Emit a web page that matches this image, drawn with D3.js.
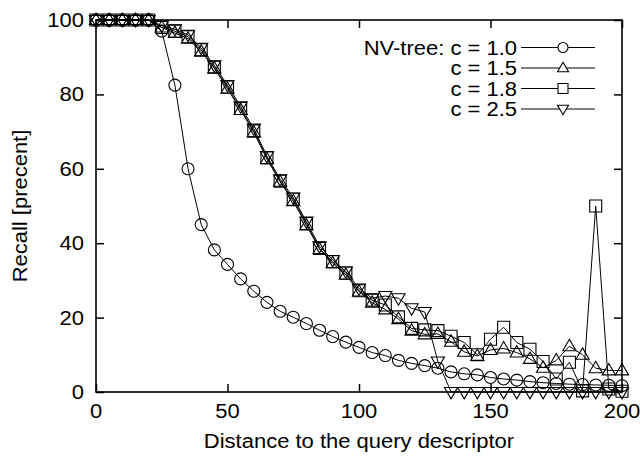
<!DOCTYPE html>
<html><head><meta charset="utf-8">
<script src="https://cdn.jsdelivr.net/npm/d3@7"></script>
<style>body{margin:0;background:#fff} text{font-family:"Liberation Sans",Arial,Helvetica,sans-serif;fill:#000}</style>
</head><body><svg id="c" width="640" height="460"></svg>
<script>
const distance = [0,5,10,15,20,25,30,35,40,45,50,55,60,65,70,75,80,85,90,95,100,105,110,115,120,125,130,135,140,145,150,155,160,165,170,175,180,185,190,195,200];
const recallC10 = [100,100,100,100,100,97,82.5,60,45,38.2,34.3,30.4,27.1,24.1,21.7,20.1,18.4,16.6,14.9,13.4,12.0,10.6,9.8,8.5,7.7,7.1,6.4,5.4,4.9,4.6,3.9,3.5,3.2,2.8,2.5,2.3,2.1,2.0,1.9,1.8,1.7];
const recallC15 = [100,100,100,100,100,98,96.5,95,91.5,87,81.5,75.8,69.8,62.6,56.5,51.3,44.8,38.4,34.6,31.5,27,24,22.2,19.6,16.5,15.5,15.6,13.5,10.8,9.7,11.3,11.7,10.6,8.9,6.5,8.5,12.3,10,6.4,5.8,5.8];
const recallC18 = [100,100,100,100,100,98,97,95.5,92,87.3,82,76.2,70.2,63,56.7,51.8,45.3,38.6,35,32,27.2,24.7,23.4,20.2,17.1,16.7,16.5,15,13.3,10,14.2,17.4,13.3,11.5,8.2,3.5,8,0.3,50,0.8,0.2];
const recallC25 = [100,100,100,100,100,98.5,97.5,96,92.5,87.8,82.5,76.8,70.8,63.4,57.2,52.3,45.8,39.2,35.5,32.4,27.8,25.2,25.8,25.2,22.5,21.5,8.2,0,0,0,0,0,0,0,0,0,0,0,0,0,0];
const seriesLabels = ["NV-tree: c = 1.0","c = 1.5","c = 1.8","c = 2.5"];
const xTicks = [0,50,100,150,200];
const yTicks = [0,20,40,60,80,100];
const xTitle = "Distance to the query descriptor";
const yTitle = "Recall [precent]";

const svg = d3.select("#c");
const L=96, R=622, T=20, B=392;
const x = d3.scaleLinear().domain([0,200]).range([L,R]);
const y = d3.scaleLinear().domain([0,100]).range([B,T]);
const FS = 19.5, SX = 1.128;

function label(txt, px, py, anchor, rot){
  const g = svg.append("g").attr("transform",`translate(${px},${py})${rot?" rotate(-90)":""} scale(${SX},1)`);
  return g.append("text").attr("text-anchor",anchor).style("font-size",FS+"px").text(txt);
}

const shapes = [
  s => `M${s},0A${s},${s} 0 1,1 ${-s},0A${s},${s} 0 1,1 ${s},0Z`,
  s => `M0,${-s*1.15}L${s*1.1},${s*0.75}L${-s*1.1},${s*0.75}Z`,
  s => `M${-s},${-s}H${s}V${s}H${-s}Z`,
  s => `M0,${s*1.15}L${s*1.1},${-s*0.75}L${-s*1.1},${-s*0.75}Z`
];
const allSeries = [recallC10, recallC15, recallC18, recallC25];

// inward ticks on all four sides (labels drawn separately)
const gx = svg.append("g").attr("transform",`translate(0,${B})`)
  .call(d3.axisBottom(x).tickValues(xTicks).tickSizeInner(-8).tickSizeOuter(0).tickFormat(""));
const gx2 = svg.append("g").attr("transform",`translate(0,${T})`)
  .call(d3.axisTop(x).tickValues(xTicks).tickSizeInner(-8).tickSizeOuter(0).tickFormat(""));
const gy = svg.append("g").attr("transform",`translate(${L},0)`)
  .call(d3.axisLeft(y).tickValues(yTicks).tickSizeInner(-8).tickSizeOuter(0).tickFormat(""));
const gy2 = svg.append("g").attr("transform",`translate(${R},0)`)
  .call(d3.axisRight(y).tickValues(yTicks).tickSizeInner(-8).tickSizeOuter(0).tickFormat(""));
[gx,gx2,gy,gy2].forEach(g=>{
  g.select(".domain").remove();
  g.selectAll("line").attr("stroke","#000").attr("stroke-width",1.5);
});
xTicks.forEach(v=>label(String(v), x(v), 418, "middle"));
yTicks.forEach(v=>label(String(v), 84, y(v)+7, "end"));

svg.append("rect").attr("x",L).attr("y",T).attr("width",R-L).attr("height",B-T)
  .attr("fill","none").attr("stroke","#000").attr("stroke-width",1.6);

const line = d3.line().x((d,i)=>x(distance[i])).y(d=>y(d));
allSeries.forEach((vals,k)=>{
  svg.append("path").datum(vals).attr("d",line).attr("fill","none").attr("stroke","#000").attr("stroke-width",1);
  svg.append("g").selectAll("path").data(vals).join("path")
    .attr("transform",(d,i)=>`translate(${x(distance[i])},${y(d)})`)
    .attr("d",shapes[k](6)).attr("fill","none").attr("stroke","#000").attr("stroke-width",1.1);
});

// legend
const legY = [47.5,68,88.5,109];
seriesLabels.forEach((t,k)=>{
  label(t, 517, legY[k]+7, "end");
  svg.append("line").attr("x1",521).attr("x2",595).attr("y1",legY[k]).attr("y2",legY[k]).attr("stroke","#000").attr("stroke-width",1);
  svg.append("path").attr("transform",`translate(563,${legY[k]})`).attr("d",shapes[k](5))
    .attr("fill","#fff").attr("stroke","#000").attr("stroke-width",1.1);
});

label(xTitle, (L+R)/2, 448, "middle");
label(yTitle, 27, (T+B)/2, "middle", true);
</script></body></html>
